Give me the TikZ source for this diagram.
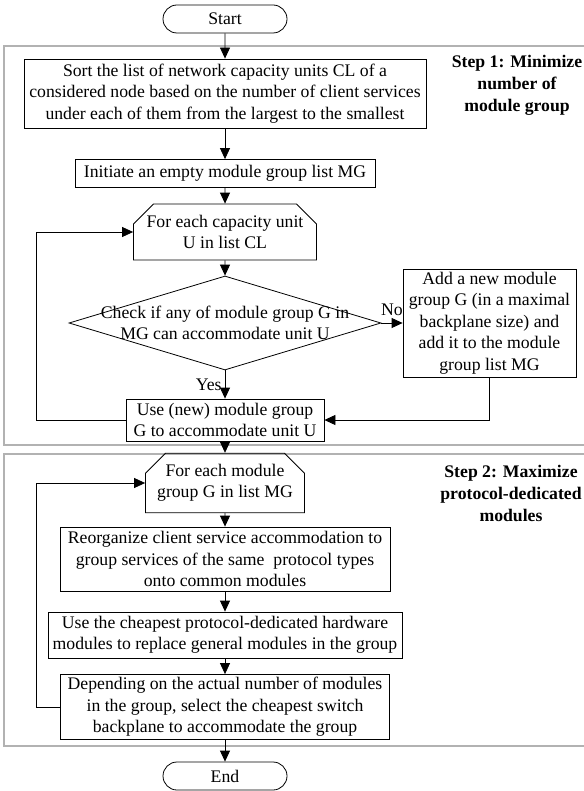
\documentclass[tikz,border=0pt]{standalone}
\usepackage{fontspec}
\setmainfont{Liberation Serif}
\usetikzlibrary{arrows.meta,shapes.geometric,shapes.misc}

\begin{document}
\begin{tikzpicture}[x=1pt, y=-1pt, line width=0.8pt,
    every node/.style={font=\fontsize{17.7}{21.5}\selectfont, align=center, inner sep=1pt},
    flow/.style={-{Triangle[length=11pt,width=10pt]}},
    box/.style={rectangle, draw},
    term/.style={rounded rectangle, draw, minimum width=126pt, minimum height=28pt},
    loophead/.style={chamfered rectangle, chamfered rectangle corners={north west,north east},
        chamfered rectangle xsep=10pt, chamfered rectangle ysep=10pt, draw},
    decision/.style={diamond, draw, minimum width=312pt, minimum height=94pt},
    stage/.style={draw=gray!60, line width=1.5pt},
    steptext/.style={font=\fontsize{17.7}{22}\selectfont\bfseries}]

   \useasboundingbox (0,0) rectangle (583,791);

   \draw[stage] (4,46) rectangle (590,445);
   \draw[stage] (4,454) rectangle (590,746);

   \node[term] (start) at (225,19) {Start};
   \node[box, minimum width=402pt, minimum height=69pt] (sort) at (225,93.5)
      {Sort the list of network capacity units CL of a\\considered node based on the number of client services\\under each of them from the largest to the smallest};
   \node[box, minimum width=300pt, minimum height=28pt] (init) at (225,173.5)
      {Initiate an empty module group list MG};
   \node[loophead, minimum width=183pt, minimum height=42pt] (unit) at (225,232)
      {For each capacity unit\\U in list CL};
   \node[decision] (check) at (225,323) {};
   \node (checktext) at (check.center) {Check if any of module group G in\\MG can accommodate unit U};
   \node[box, minimum width=173pt, minimum height=108pt] (add) at (489.5,323)
      {Add a new module\\group G (in a maximal\\backplane size) and\\add it to the module\\group list MG};
   \node[box, minimum width=198pt, minimum height=42pt] (use) at (225,420)
      {Use (new) module group\\G to accommodate unit U};

   \node[loophead, minimum width=159pt, minimum height=44pt] (group) at (225,483)
      {For each module\\group G in list MG};
   \node[box, minimum width=330pt, minimum height=64pt] (reorg) at (225,559)
      {Reorganize client service accommodation to\\group services of the same\ \ protocol types\\onto common modules};
   \node[box, minimum width=354pt, minimum height=46pt] (cheap) at (225,635)
      {Use the cheapest protocol-dedicated hardware\\modules to replace general modules in the group};
   \node[box, minimum width=329pt, minimum height=65pt] (backplane) at (225,707)
      {Depending on the actual number of modules\\in the group, select the cheapest switch\\backplane to accommodate the group};
   \node[term] (stop) at (225,776) {End};

   \node[steptext] (stepA) at (517,85) {Step 1: Minimize\\number of\\module group};
   \node[steptext] (stepB) at (511,493) {Step 2: Maximize\\protocol-dedicated\\modules};

   \coordinate (back) at (36,0);

   \foreach \i/\j in {start/sort, sort/init, init/unit, unit/check, use/group, group/reorg, reorg/cheap, cheap/backplane, backplane/stop}
      \draw[flow] (\i) -- (\j);
   \draw[flow] (check) -- node[left=2pt]{Yes} (use);
   \draw[flow] (check) -- node[above=6pt]{No} (add);
   \draw[flow] (add) |- (use);
   \draw[flow] (use.west) -- (use.west -| back) |- (unit.west);
   \draw[flow] (backplane.west) -- (backplane.west -| back) |- (group.west);

\end{tikzpicture}
\end{document}
